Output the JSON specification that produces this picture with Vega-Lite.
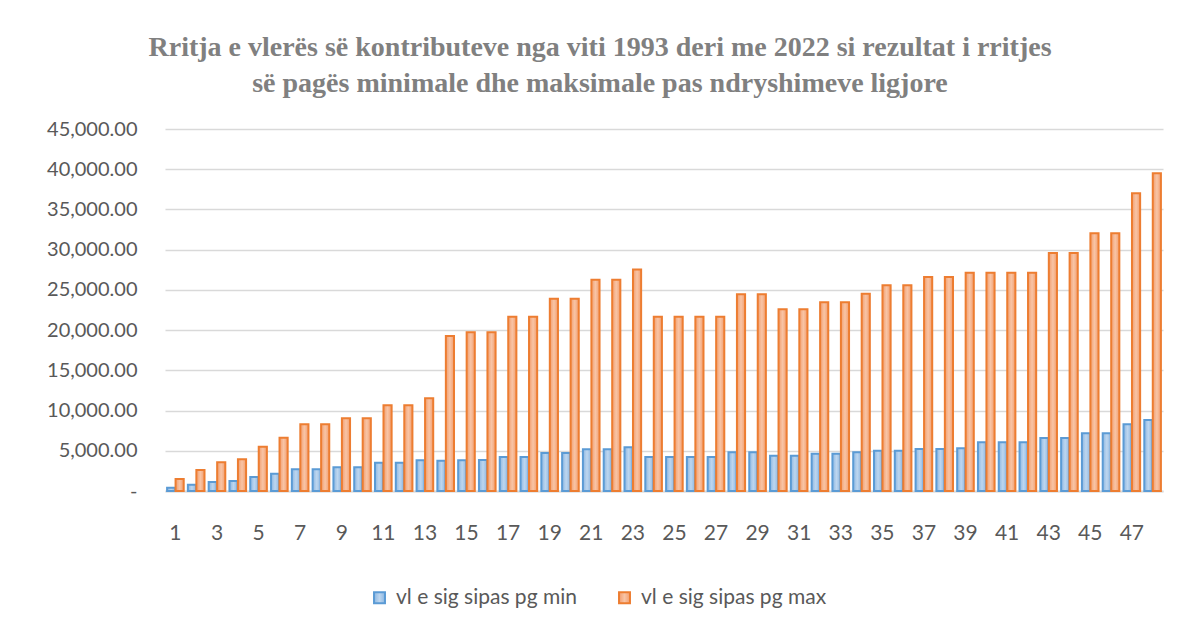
{
  "$schema": "https://vega.github.io/schema/vega-lite/v6.json",
  "autosize": {"type": "none"},
  "width": 998,
  "height": 362,
  "padding": {"left": 165, "top": 129, "right": 16, "bottom": 137},
  "background": "white",
  "config": {
    "view": {"stroke": null},
    "font": "Lato"
  },
  "title": {
    "text": ["Rritja e vlerës së kontributeve nga viti 1993 deri me 2022 si rezultat i rritjes", "së pagës minimale dhe maksimale pas ndryshimeve ligjore"],
    "font": "Liberation Serif",
    "fontSize": 28,
    "fontWeight": "bold",
    "color": "#808080",
    "lineHeight": 36,
    "anchor": "middle",
    "frame": "group",
    "dx": -64,
    "offset": 21
  },
  "data": {
    "values": [
      {"n": 1, "series": "vl e sig sipas pg min", "value": 400}, {"n": 1, "series": "vl e sig sipas pg max", "value": 1500},
      {"n": 2, "series": "vl e sig sipas pg min", "value": 790}, {"n": 2, "series": "vl e sig sipas pg max", "value": 2610},
      {"n": 3, "series": "vl e sig sipas pg min", "value": 1120}, {"n": 3, "series": "vl e sig sipas pg max", "value": 3560},
      {"n": 4, "series": "vl e sig sipas pg min", "value": 1240}, {"n": 4, "series": "vl e sig sipas pg max", "value": 3940},
      {"n": 5, "series": "vl e sig sipas pg min", "value": 1740}, {"n": 5, "series": "vl e sig sipas pg max", "value": 5510},
      {"n": 6, "series": "vl e sig sipas pg min", "value": 2150}, {"n": 6, "series": "vl e sig sipas pg max", "value": 6630},
      {"n": 7, "series": "vl e sig sipas pg min", "value": 2690}, {"n": 7, "series": "vl e sig sipas pg max", "value": 8290},
      {"n": 8, "series": "vl e sig sipas pg min", "value": 2690}, {"n": 8, "series": "vl e sig sipas pg max", "value": 8290},
      {"n": 9, "series": "vl e sig sipas pg min", "value": 2940}, {"n": 9, "series": "vl e sig sipas pg max", "value": 9030},
      {"n": 10, "series": "vl e sig sipas pg min", "value": 2940}, {"n": 10, "series": "vl e sig sipas pg max", "value": 9030},
      {"n": 11, "series": "vl e sig sipas pg min", "value": 3520}, {"n": 11, "series": "vl e sig sipas pg max", "value": 10650},
      {"n": 12, "series": "vl e sig sipas pg min", "value": 3520}, {"n": 12, "series": "vl e sig sipas pg max", "value": 10650},
      {"n": 13, "series": "vl e sig sipas pg min", "value": 3810}, {"n": 13, "series": "vl e sig sipas pg max", "value": 11520},
      {"n": 14, "series": "vl e sig sipas pg min", "value": 3770}, {"n": 14, "series": "vl e sig sipas pg max", "value": 19270},
      {"n": 15, "series": "vl e sig sipas pg min", "value": 3810}, {"n": 15, "series": "vl e sig sipas pg max", "value": 19730},
      {"n": 16, "series": "vl e sig sipas pg min", "value": 3850}, {"n": 16, "series": "vl e sig sipas pg max", "value": 19730},
      {"n": 17, "series": "vl e sig sipas pg min", "value": 4230}, {"n": 17, "series": "vl e sig sipas pg max", "value": 21650},
      {"n": 18, "series": "vl e sig sipas pg min", "value": 4230}, {"n": 18, "series": "vl e sig sipas pg max", "value": 21650},
      {"n": 19, "series": "vl e sig sipas pg min", "value": 4720}, {"n": 19, "series": "vl e sig sipas pg max", "value": 23890},
      {"n": 20, "series": "vl e sig sipas pg min", "value": 4720}, {"n": 20, "series": "vl e sig sipas pg max", "value": 23890},
      {"n": 21, "series": "vl e sig sipas pg min", "value": 5180}, {"n": 21, "series": "vl e sig sipas pg max", "value": 26270},
      {"n": 22, "series": "vl e sig sipas pg min", "value": 5180}, {"n": 22, "series": "vl e sig sipas pg max", "value": 26270},
      {"n": 23, "series": "vl e sig sipas pg min", "value": 5430}, {"n": 23, "series": "vl e sig sipas pg max", "value": 27520},
      {"n": 24, "series": "vl e sig sipas pg min", "value": 4230}, {"n": 24, "series": "vl e sig sipas pg max", "value": 21650},
      {"n": 25, "series": "vl e sig sipas pg min", "value": 4230}, {"n": 25, "series": "vl e sig sipas pg max", "value": 21650},
      {"n": 26, "series": "vl e sig sipas pg min", "value": 4230}, {"n": 26, "series": "vl e sig sipas pg max", "value": 21650},
      {"n": 27, "series": "vl e sig sipas pg min", "value": 4230}, {"n": 27, "series": "vl e sig sipas pg max", "value": 21650},
      {"n": 28, "series": "vl e sig sipas pg min", "value": 4810}, {"n": 28, "series": "vl e sig sipas pg max", "value": 24450},
      {"n": 29, "series": "vl e sig sipas pg min", "value": 4810}, {"n": 29, "series": "vl e sig sipas pg max", "value": 24450},
      {"n": 30, "series": "vl e sig sipas pg min", "value": 4390}, {"n": 30, "series": "vl e sig sipas pg max", "value": 22590},
      {"n": 31, "series": "vl e sig sipas pg min", "value": 4390}, {"n": 31, "series": "vl e sig sipas pg max", "value": 22590},
      {"n": 32, "series": "vl e sig sipas pg min", "value": 4620}, {"n": 32, "series": "vl e sig sipas pg max", "value": 23460},
      {"n": 33, "series": "vl e sig sipas pg min", "value": 4620}, {"n": 33, "series": "vl e sig sipas pg max", "value": 23460},
      {"n": 34, "series": "vl e sig sipas pg min", "value": 4810}, {"n": 34, "series": "vl e sig sipas pg max", "value": 24530},
      {"n": 35, "series": "vl e sig sipas pg min", "value": 5010}, {"n": 35, "series": "vl e sig sipas pg max", "value": 25570},
      {"n": 36, "series": "vl e sig sipas pg min", "value": 5010}, {"n": 36, "series": "vl e sig sipas pg max", "value": 25570},
      {"n": 37, "series": "vl e sig sipas pg min", "value": 5220}, {"n": 37, "series": "vl e sig sipas pg max", "value": 26610},
      {"n": 38, "series": "vl e sig sipas pg min", "value": 5220}, {"n": 38, "series": "vl e sig sipas pg max", "value": 26610},
      {"n": 39, "series": "vl e sig sipas pg min", "value": 5300}, {"n": 39, "series": "vl e sig sipas pg max", "value": 27140},
      {"n": 40, "series": "vl e sig sipas pg min", "value": 6050}, {"n": 40, "series": "vl e sig sipas pg max", "value": 27140},
      {"n": 41, "series": "vl e sig sipas pg min", "value": 6050}, {"n": 41, "series": "vl e sig sipas pg max", "value": 27140},
      {"n": 42, "series": "vl e sig sipas pg min", "value": 6050}, {"n": 42, "series": "vl e sig sipas pg max", "value": 27140},
      {"n": 43, "series": "vl e sig sipas pg min", "value": 6590}, {"n": 43, "series": "vl e sig sipas pg max", "value": 29590},
      {"n": 44, "series": "vl e sig sipas pg min", "value": 6590}, {"n": 44, "series": "vl e sig sipas pg max", "value": 29590},
      {"n": 45, "series": "vl e sig sipas pg min", "value": 7170}, {"n": 45, "series": "vl e sig sipas pg max", "value": 32030},
      {"n": 46, "series": "vl e sig sipas pg min", "value": 7170}, {"n": 46, "series": "vl e sig sipas pg max", "value": 32030},
      {"n": 47, "series": "vl e sig sipas pg min", "value": 8290}, {"n": 47, "series": "vl e sig sipas pg max", "value": 37010},
      {"n": 48, "series": "vl e sig sipas pg min", "value": 8830}, {"n": 48, "series": "vl e sig sipas pg max", "value": 39490}
    ]
  },
  "mark": {"type": "bar", "strokeWidth": 2},
  "encoding": {
    "x": {
      "field": "n",
      "type": "ordinal",
      "scale": {"paddingInner": 0.2, "paddingOuter": 0.1},
      "axis": {
        "title": null,
        "labelAngle": 0,
        "labelExpr": "datum.value % 2 == 1 ? datum.label : ''",
        "labelFont": "Lato",
        "labelFontSize": 21,
        "labelColor": "#595959",
        "labelPadding": 31,
        "ticks": false,
        "grid": false,
        "domain": true,
        "domainColor": "#d9d9d9",
        "domainWidth": 2
      }
    },
    "xOffset": {
      "field": "series",
      "type": "nominal",
      "sort": ["vl e sig sipas pg min", "vl e sig sipas pg max"],
      "scale": {"paddingInner": 0.04}
    },
    "y": {
      "field": "value",
      "type": "quantitative",
      "scale": {"domain": [0, 45000], "nice": false},
      "axis": {
        "title": null,
        "values": [0, 5000, 10000, 15000, 20000, 25000, 30000, 35000, 40000, 45000],
        "labelExpr": "datum.value == 0 ? '-\u00a0\u00a0\u00a0\u00a0' : format(datum.value, ',.2f')",
        "labelFont": "Lato",
        "labelFontSize": 20,
        "labelColor": "#595959",
        "labelPadding": 28,
        "ticks": false,
        "domain": false,
        "grid": true,
        "gridColor": "#d9d9d9",
        "gridWidth": 1.5
      }
    },
    "fill": {
      "field": "series",
      "type": "nominal",
      "sort": ["vl e sig sipas pg min", "vl e sig sipas pg max"],
      "scale": {
        "domain": ["vl e sig sipas pg min", "vl e sig sipas pg max"],
        "range": [
          {"expr": "{gradient: 'linear', x1: 0, y1: 0, x2: 1, y2: 0, stops: [{offset: 0, color: '#8db7e2'}, {offset: 0.5, color: '#bdd6ef'}, {offset: 1, color: '#8db7e2'}]}"},
          {"expr": "{gradient: 'linear', x1: 0, y1: 0, x2: 1, y2: 0, stops: [{offset: 0, color: '#f29e6f'}, {offset: 0.5, color: '#f8c4a5'}, {offset: 1, color: '#f29e6f'}]}"}
        ]
      },
      "legend": {
        "orient": "none",
        "legendX": 204,
        "legendY": 458,
        "direction": "horizontal",
        "title": null,
        "symbolType": "square",
        "symbolSize": 120,
        "symbolStrokeWidth": 2,
        "labelFont": "Lato",
        "labelFontSize": 21,
        "labelColor": "#595959",
        "labelOffset": 6,
        "labelLimit": 0,
        "columnPadding": 37,
        "padding": 0
      }
    },
    "stroke": {
      "field": "series",
      "type": "nominal",
      "sort": ["vl e sig sipas pg min", "vl e sig sipas pg max"],
      "scale": {
        "domain": ["vl e sig sipas pg min", "vl e sig sipas pg max"],
        "range": ["#5b9bd5", "#ed7d31"]
      },
      "legend": {
        "orient": "none",
        "legendX": 204,
        "legendY": 458,
        "direction": "horizontal",
        "title": null,
        "symbolType": "square",
        "symbolSize": 120,
        "symbolStrokeWidth": 2,
        "labelFont": "Lato",
        "labelFontSize": 21,
        "labelColor": "#595959",
        "labelOffset": 6,
        "labelLimit": 0,
        "columnPadding": 37,
        "padding": 0
      }
    }
  }
}
